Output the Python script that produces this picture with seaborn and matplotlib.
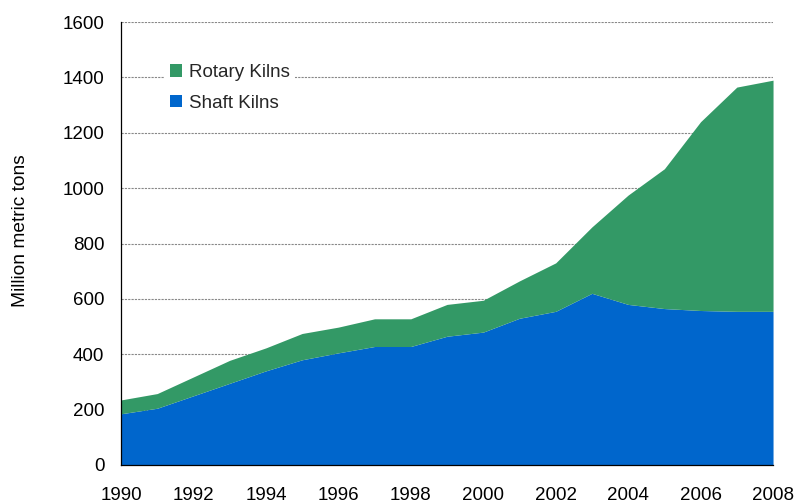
import matplotlib
matplotlib.use("Agg")
import matplotlib.pyplot as plt
from matplotlib.patches import Patch
import seaborn as sns
import pandas as pd

years = list(range(1990, 2009))
shaft_kilns = [185, 205, 250, 295, 340, 380, 405, 428, 428, 465, 480, 530, 555, 620, 580, 565, 558, 555, 555]
total_output = [235, 258, 318, 378, 423, 475, 498, 528, 528, 580, 595, 665, 730, 860, 975, 1070, 1240, 1365, 1390]
rotary_kilns = [t - s for t, s in zip(total_output, shaft_kilns)]

df = pd.DataFrame({"year": years, "Shaft Kilns": shaft_kilns, "Rotary Kilns": rotary_kilns})

sns.set_theme(style="white")
plt.rcParams["font.family"] = ["Liberation Sans", "DejaVu Sans"]

fig = plt.figure(figsize=(7.94, 5.04), dpi=100)
ax = fig.add_axes([0.1524, 0.0774, 0.8212, 0.8789])

blue = "#0066CC"
green = "#339966"
ax.stackplot(df["year"], df["Shaft Kilns"], df["Rotary Kilns"],
             colors=[blue, green], linewidth=0, zorder=2)

ax.set_xlim(1990, 2008)
ax.set_ylim(0, 1600)
ax.set_xticks(range(1990, 2009, 2))
ax.set_yticks(range(0, 1601, 200))
ax.yaxis.grid(True, linestyle=(0, (2, 1)), color="#888888", linewidth=0.8, zorder=0)
ax.set_axisbelow(True)

for side in ["top", "right"]:
    ax.spines[side].set_visible(False)
for side in ["left", "bottom"]:
    ax.spines[side].set_color("black")
    ax.spines[side].set_linewidth(0.9)

ax.tick_params(axis="both", which="major", direction="out", length=5, width=0.9,
               color="black", labelsize=13.5, labelcolor="black")
ax.tick_params(axis="y", pad=7)
ax.tick_params(axis="x", pad=10.5)
ax.set_ylabel("Million metric tons", fontsize=13.8, color="black")
ax.yaxis.set_label_coords(-0.141, 0.528)

handles = [Patch(facecolor=green, edgecolor="none", label="Rotary Kilns"),
           Patch(facecolor=blue, edgecolor="none", label="Shaft Kilns")]
leg = ax.legend(handles=handles, loc="upper left", bbox_to_anchor=(0.052, 0.939),
                frameon=True, fontsize=13.5, handlelength=0.65, handleheight=0.65,
                handletextpad=0.35, labelspacing=0.72, borderpad=0.3)
leg.get_frame().set_facecolor("white")
leg.get_frame().set_edgecolor("none")
leg.get_frame().set_alpha(1)
leg.get_frame().set_boxstyle("square", pad=0)

fig.savefig("out.png", dpi=100)
